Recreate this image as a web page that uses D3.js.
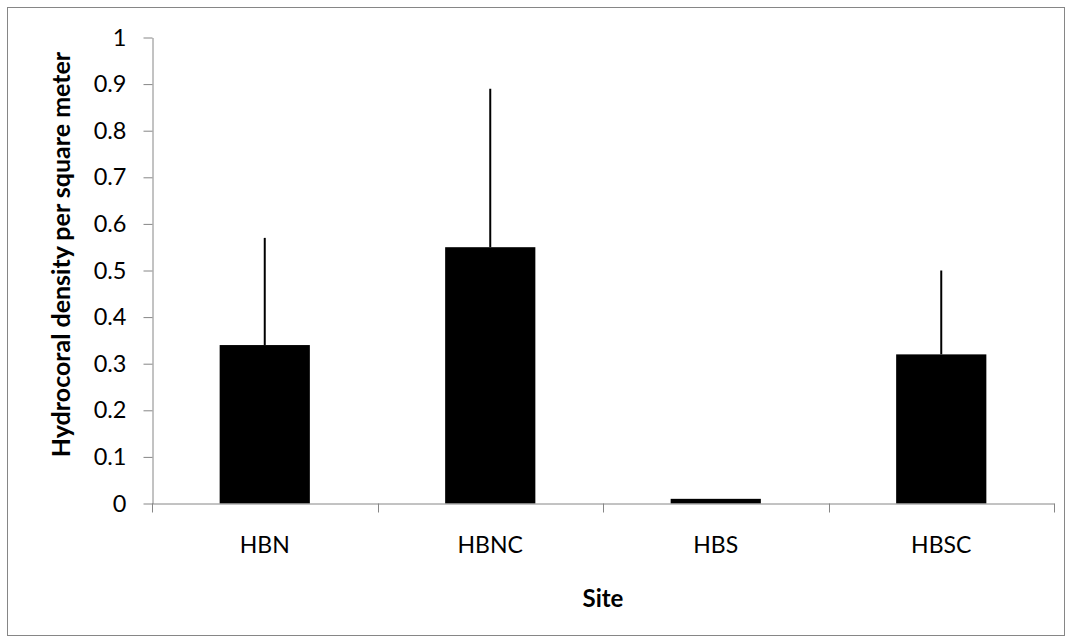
<!DOCTYPE html>
<html>
<head>
<meta charset="utf-8">
<script src="https://cdn.jsdelivr.net/npm/d3@7"></script>
<style>
  html, body { margin: 0; padding: 0; background: #fff; }
  svg { display: block; }
  text { font-family: Lato, "Open Sans", sans-serif; fill: #000; }
</style>
</head>
<body>
<svg id="chart" width="1073" height="644"></svg>
<script>
const categories = ["HBN", "HBNC", "HBS", "HBSC"];
const means = [0.34, 0.55, 0.01, 0.32];
const upperErrors = [0.57, 0.89, 0.01, 0.50];
const yTicks = [0, 0.1, 0.2, 0.3, 0.4, 0.5, 0.6, 0.7, 0.8, 0.9, 1];
const yTickLabels = ["0", "0.1", "0.2", "0.3", "0.4", "0.5", "0.6", "0.7", "0.8", "0.9", "1"];
const xTitle = "Site";
const yTitle = "Hydrocoral density per square meter";

(function () {
const svg = d3.select("#chart");
const axisColor = "#868686";

// chart border
svg.append("rect")
  .attr("x", 7.5).attr("y", 7.5)
  .attr("width", 1057).attr("height", 628)
  .attr("fill", "none").attr("stroke", axisColor).attr("stroke-width", 1);

const plotLeft = 152, plotRight = 1054, plotTop = 37.5, plotBottom = 503.5;

const x = d3.scaleBand().domain(categories).range([plotLeft, plotRight])
  .paddingInner(0.6).paddingOuter(0.3);
const y = d3.scaleLinear().domain([0, 1]).range([plotBottom, plotTop]);

// bars
svg.append("g").selectAll("rect").data(categories).join("rect")
  .attr("x", d => x(d))
  .attr("width", x.bandwidth())
  .attr("y", (d, i) => y(means[i]))
  .attr("height", (d, i) => y(0) - y(means[i]))
  .attr("fill", "#000");

// error bars (upper only, no cap)
svg.append("g").selectAll("line").data(categories).join("line")
  .attr("x1", d => x(d) + x.bandwidth() / 2)
  .attr("x2", d => x(d) + x.bandwidth() / 2)
  .attr("y1", (d, i) => y(means[i]))
  .attr("y2", (d, i) => y(upperErrors[i]))
  .attr("stroke", "#000").attr("stroke-width", 2);

// y axis
const yAxis = d3.axisLeft(y).tickValues(yTicks)
  .tickFormat((d, i) => yTickLabels[i]).tickSize(9).tickPadding(17).tickSizeOuter(0);
const gy = svg.append("g").attr("transform", `translate(${plotLeft + 0.5},0)`).call(yAxis);
gy.select(".domain").attr("stroke", axisColor);
gy.selectAll(".tick line").attr("stroke", axisColor);
gy.selectAll(".tick text").style("font-family", "Lato, 'Open Sans', sans-serif")
  .style("font-size", "23.5px").attr("fill", "#000");

// x axis line
svg.append("line")
  .attr("x1", plotLeft).attr("x2", plotRight + 0.5)
  .attr("y1", y(0) + 0.5).attr("y2", y(0) + 0.5)
  .attr("stroke", axisColor).attr("stroke-width", 1);

// x tick marks at category boundaries
const step = x.step();
const gap = (step - x.bandwidth()) / 2;
const boundaries = categories.map(d => x(d) - gap)
  .concat([x(categories[categories.length - 1]) + x.bandwidth() + gap]);
svg.append("g").selectAll("line").data(boundaries).join("line")
  .attr("x1", d => Math.round(d) + 0.5).attr("x2", d => Math.round(d) + 0.5)
  .attr("y1", y(0)).attr("y2", y(0) + 9)
  .attr("stroke", axisColor);

// x tick labels
svg.append("g").selectAll("text").data(categories).join("text")
  .attr("x", d => x(d) + x.bandwidth() / 2)
  .attr("y", 553)
  .attr("text-anchor", "middle")
  .style("font-size", "23px")
  .text(d => d);

// axis titles
svg.append("text")
  .attr("x", (plotLeft + plotRight) / 2).attr("y", 607)
  .attr("text-anchor", "middle")
  .style("font-size", "24px").style("font-weight", "bold")
  .text(xTitle);

svg.append("text")
  .attr("transform", "translate(70,254.5) rotate(-90)")
  .attr("text-anchor", "middle")
  .style("font-size", "25px").style("font-weight", "bold")
  .text(yTitle);
})();
</script>
</body>
</html>
